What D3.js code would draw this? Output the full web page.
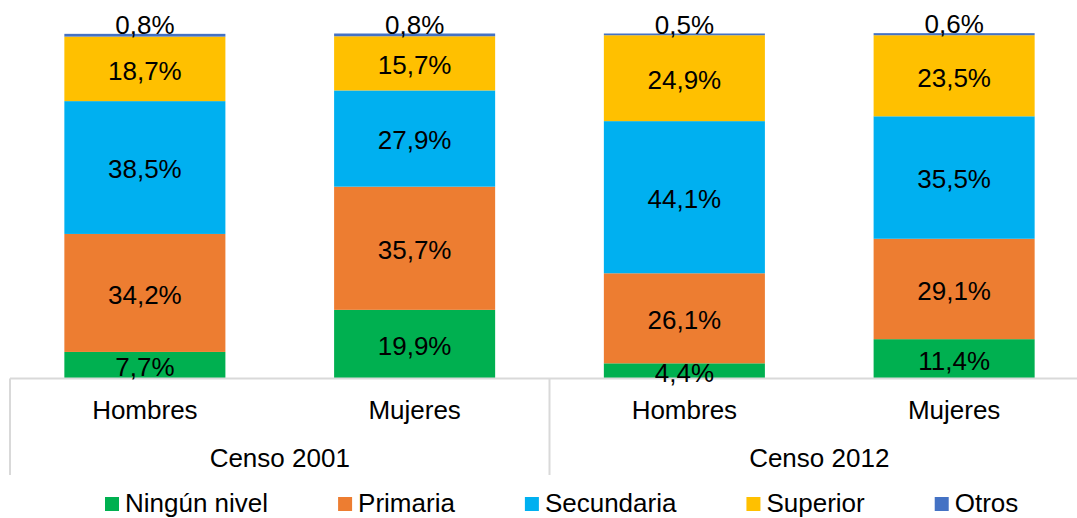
<!DOCTYPE html>
<html>
<head>
<meta charset="utf-8">
<title>Nivel educativo por sexo, Censo 2001 y 2012</title>
<script src="https://cdnjs.cloudflare.com/ajax/libs/d3/7.8.5/d3.min.js"></script>
<style>
  body { margin: 0; background: #fff; }
  svg text { font-family: "Liberation Sans", Arial, sans-serif; fill: #000; }
</style>
</head>
<body>
<svg id="chart" width="1077" height="518"></svg>
<script>
// data
var categories = ["Hombres", "Mujeres", "Hombres", "Mujeres"];
var groups = ["Censo 2001", "Censo 2012"];
var series = ["Ningún nivel", "Primaria", "Secundaria", "Superior", "Otros"];
var colors = ["#00B050", "#ED7D31", "#00B0F0", "#FFC000", "#4472C4"];

var ningun     = [7.7, 19.9, 4.4, 11.4];
var primaria   = [34.2, 35.7, 26.1, 29.1];
var secundaria = [38.5, 27.9, 44.1, 35.5];
var superior   = [18.7, 15.7, 24.9, 23.5];
var otros      = [0.8, 0.8, 0.5, 0.6];

var values = [ningun, primaria, secundaria, superior, otros];

// one row per bar
var rows = categories.map(function(c, i) {
  var r = { idx: i, cat: c };
  series.forEach(function(s, j) { r[s] = values[j][i]; });
  return r;
});

var svg = d3.select("#chart");

var x = d3.scaleBand()
  .domain(d3.range(categories.length))
  .range([10, 1089])
  .paddingInner(0.403)
  .paddingOuter(0.2015);

var y = d3.scaleLinear().domain([0, 100]).range([378.5, 33.5]);

var color = d3.scaleOrdinal().domain(series).range(colors);

var stacked = d3.stack().keys(series)(rows);

var fmt = function(v) { return d3.format(".1f")(v).replace(".", ",") + "%"; };

// bars
var layer = svg.append("g").selectAll("g")
  .data(stacked)
  .enter().append("g")
  .attr("fill", function(d) { return color(d.key); });

layer.selectAll("rect")
  .data(function(d) { return d; })
  .enter().append("rect")
  .attr("x", function(d) { return x(d.data.idx); })
  .attr("width", x.bandwidth())
  .attr("y", function(d) { return y(d[1]); })
  .attr("height", function(d) { return y(d[0]) - y(d[1]); });

// category axis (two levels)
var axisCol = "#D9D9D9";
var axis = svg.append("g");
axis.append("line")
  .attr("x1", 10).attr("x2", 1077)
  .attr("y1", y(0)).attr("y2", y(0))
  .attr("stroke", axisCol).attr("stroke-width", 2);

var step = x.step();
var dividers = [0, 2, 4].map(function(i) { return 10 + i * step; });
axis.selectAll(".div")
  .data(dividers)
  .enter().append("line")
  .attr("x1", function(d) { return d; }).attr("x2", function(d) { return d; })
  .attr("y1", y(0)).attr("y2", 475)
  .attr("stroke", axisCol).attr("stroke-width", 2);

axis.selectAll(".cat")
  .data(rows)
  .enter().append("text")
  .attr("font-size", 26)
  .attr("text-anchor", "middle")
  .attr("x", function(d) { return x(d.idx) + x.bandwidth() / 2; })
  .attr("y", 419)
  .text(function(d) { return d.cat; });

axis.selectAll(".grp")
  .data(groups)
  .enter().append("text")
  .attr("font-size", 26)
  .attr("text-anchor", "middle")
  .attr("x", function(d, i) { return (dividers[i] + dividers[i + 1]) / 2; })
  .attr("y", 467)
  .text(function(d) { return d; });

// value labels (on top of the axis line)
var labels = svg.append("g").attr("font-size", 26).attr("text-anchor", "middle");
stacked.forEach(function(s) {
  labels.selectAll(null)
    .data(s)
    .enter().append("text")
    .attr("x", function(d) { return x(d.data.idx) + x.bandwidth() / 2; })
    .attr("y", function(d) {
      // the thin top segment gets its label sitting on the bar
      if (s.key === "Otros") return y(d[1]);
      return (y(d[0]) + y(d[1])) / 2;
    })
    .attr("dy", s.key === "Otros" ? "0" : "0.42em")
    .text(function(d) { return fmt(d.data[s.key]); });
});

// legend
var legend = svg.append("g").attr("transform", "translate(105,497)");
var lx = 0;
series.forEach(function(s) {
  var item = legend.append("g").attr("transform", "translate(" + lx + ",0)");
  item.append("rect").attr("width", 14).attr("height", 14).attr("fill", color(s));
  var t = item.append("text")
    .attr("x", 20).attr("y", 15)
    .attr("font-size", 26)
    .text(s);
  lx += 20 + t.node().getComputedTextLength() + 70;
});
</script>
</body>
</html>
